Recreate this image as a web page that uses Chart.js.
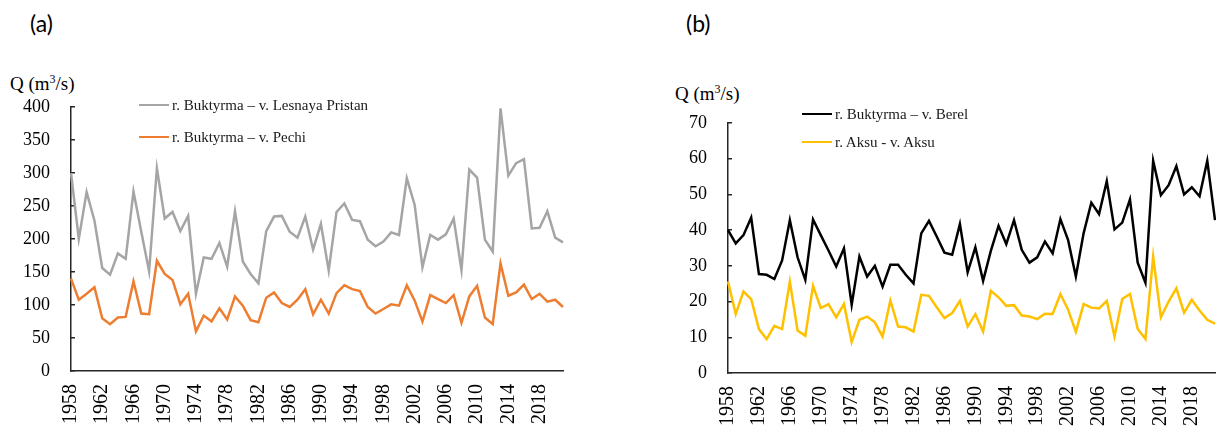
<!DOCTYPE html>
<html>
<head>
<meta charset="utf-8">
<script src="https://cdn.jsdelivr.net/npm/chart.js@4.4.1/dist/chart.umd.min.js"></script>
<style>
  html, body { margin: 0; padding: 0; width: 1216px; height: 428px; overflow: hidden; background: #fff; }
  .panel { position: absolute; top: 0; height: 428px; overflow: hidden; }
  #panelA { left: 0; width: 600px; }
  #panelB { left: 640px; width: 576px; }
  .panel canvas { position: absolute; left: 0; top: 0; }
  .tag { position: absolute; font-family: Lato, "Open Sans", sans-serif; font-size: 23px; line-height: 1; color: #000; }
  .ytitle { position: absolute; font-family: "Liberation Serif", serif; font-size: 19px; line-height: 1; color: #000; white-space: nowrap; }
  .ytitle sup { font-size: 12px; vertical-align: 7px; line-height: 0; }
  .legend { position: absolute; font-family: "Liberation Serif", serif; font-size: 15px; color: #1a1a1a; }
  .legend .item { position: absolute; left: 0; display: flex; align-items: center; white-space: nowrap; height: 18px; }
  .legend .swatch { display: inline-block; width: 30px; height: 0; border-top: 2.5px solid; margin-right: 3px; }
</style>
</head>
<body>
<div class="panel" id="panelA">
  <div class="tag" style="left:30px; top:12px;">(a)</div>
  <div class="ytitle" style="left:10px; top:74px;">Q (m<sup>3</sup>/s)</div>
  <canvas id="chartA" width="600" height="428"></canvas>
  <div class="legend" id="legendA" style="left:139px; top:96px;"></div>
</div>
<div class="panel" id="panelB">
  <div class="tag" style="left:46px; top:12px;">(b)</div>
  <div class="ytitle" style="left:35px; top:84px;">Q (m<sup>3</sup>/s)</div>
  <canvas id="chartB" width="620" height="428"></canvas>
  <div class="legend" id="legendB" style="left:162px; top:105px;"></div>
</div>

<script>
const years = [
  1958, 1959, 1960, 1961, 1962, 1963, 1964, 1965, 1966, 1967, 1968, 1969, 1970, 1971, 1972, 1973,
  1974, 1975, 1976, 1977, 1978, 1979, 1980, 1981, 1982, 1983, 1984, 1985, 1986, 1987, 1988, 1989,
  1990, 1991, 1992, 1993, 1994, 1995, 1996, 1997, 1998, 1999, 2000, 2001, 2002, 2003, 2004, 2005,
  2006, 2007, 2008, 2009, 2010, 2011, 2012, 2013, 2014, 2015, 2016, 2017, 2018, 2019, 2020, 2021
];
const labelYears = [1958, 1962, 1966, 1970, 1974, 1978, 1982, 1986, 1990, 1994, 1998, 2002, 2006, 2010, 2014, 2018];

// (a) r. Buktyrma
const lesnayaPristan = [
  300, 200, 271, 228, 156, 146, 178, 170, 272, 211, 151, 307, 231, 241, 212, 235,
  117, 172, 170, 194, 158, 242, 166, 147, 133, 212, 234, 235, 211, 202, 234, 184,
  223, 152, 241, 254, 229, 227, 199, 189, 196, 210, 206, 292, 252, 157, 206, 199,
  207, 231, 153, 305, 293, 199, 181, 398, 296, 315, 321, 216, 217, 242, 202, 195
];
const pechi = [
  140, 108, 117, 127, 80, 71, 81, 82, 136, 87, 86, 167, 147, 138, 101, 117,
  60, 84, 75, 95, 78, 113, 99, 77, 74, 111, 119, 103, 97, 108, 124, 86,
  108, 87, 118, 130, 124, 121, 97, 87, 94, 101, 99, 130, 107, 75, 115, 109,
  103, 115, 73, 113, 129, 81, 71, 163, 114, 119, 131, 109, 117, 105, 108, 97
];

// (b) r. Buktyrma - Berel, r. Aksu
const berel = [
  40.0, 36.3, 38.6, 43.5, 27.7, 27.5, 26.3, 31.5, 42.8, 32.4, 26.1, 43.0, 38.6, 34.3, 29.8, 34.9,
  19.1, 32.6, 27.0, 30.0, 24.2, 30.3, 30.3, 27.5, 25.1, 39.1, 42.6, 38.2, 33.7, 33.1, 41.7, 28.2,
  35.2, 25.8, 34.2, 41.2, 36.1, 42.8, 34.5, 30.9, 32.4, 36.8, 33.5, 43.1, 37.2, 27.0, 39.1, 47.7,
  44.5, 53.7, 40.2, 42.1, 48.6, 30.9, 25.3, 59.4, 49.8, 52.6, 57.9, 50.0, 52.0, 49.5, 59.4, 42.8
];
const aksu = [
  25.6, 16.5, 22.8, 20.7, 12.3, 9.5, 13.2, 12.3, 25.6, 11.9, 10.4, 24.4, 18.2, 19.3, 15.6, 19.3,
  8.7, 14.9, 15.8, 14.2, 10.2, 20.3, 13.0, 12.8, 11.6, 21.9, 21.6, 18.4, 15.4, 16.8, 20.2, 13.0,
  16.5, 11.6, 23.0, 21.2, 18.8, 19.0, 16.1, 15.8, 15.1, 16.6, 16.5, 22.1, 17.7, 11.5, 19.3, 18.3,
  18.1, 20.2, 10.2, 20.7, 22.1, 12.3, 9.5, 32.6, 15.6, 20.0, 23.7, 16.9, 20.5, 17.5, 14.9, 13.8
];

const AXIS = "#262626";

function buildLegend(el, chart, rowGap) {
  chart.data.datasets.forEach((ds, i) => {
    const item = document.createElement("div");
    item.className = "item";
    item.style.top = (i * rowGap) + "px";
    const sw = document.createElement("span");
    sw.className = "swatch";
    sw.style.borderTopColor = ds.borderColor;
    const tx = document.createElement("span");
    tx.textContent = ds.label;
    item.appendChild(sw);
    item.appendChild(tx);
    el.appendChild(item);
  });
}

function makeChart(id, series, yMax, yStep, pad, yWidth, xHeight) {
  return new Chart(document.getElementById(id), {
    type: "line",
    data: {
      labels: years,
      datasets: series.map(s => ({
        label: s.label,
        data: s.data,
        borderColor: s.color,
        borderWidth: 2.5,
        pointRadius: 0,
        tension: 0,
        fill: false
      }))
    },
    options: {
      responsive: false,
      animation: false,
      layout: { padding: pad },
      plugins: { legend: { display: false }, tooltip: { enabled: false } },
      scales: {
        x: {
          offset: false,
          grid: { display: false, drawTicks: false },
          border: { display: true, color: AXIS, width: 1.5 },
          ticks: {
            autoSkip: false,
            minRotation: 90,
            maxRotation: 90,
            padding: 13,
            color: "#000",
            font: { family: "Liberation Serif", size: 20 },
            callback: function (v, i) {
              const y = years[i];
              return labelYears.includes(y) ? String(y) : "";
            }
          },
          afterFit: s => { s.height = xHeight; }
        },
        y: {
          min: 0,
          max: yMax,
          grid: { drawOnChartArea: false, drawTicks: true, tickLength: -4, color: AXIS, lineWidth: 1.5 },
          border: { display: true, color: AXIS, width: 1.5 },
          ticks: {
            stepSize: yStep,
            padding: 25,
            color: "#000",
            font: { family: "Liberation Serif", size: 18 }
          },
          afterFit: s => { s.width = yWidth; }
        }
      }
    }
  });
}

const chartA = makeChart("chartA", [
  { label: "r. Buktyrma – v. Lesnaya Pristan", data: lesnayaPristan, color: "#A5A5A5" },
  { label: "r. Buktyrma – v. Pechi", data: pechi, color: "#ED7D31" }
], 400, 50, { top: 107, right: 29, bottom: 0, left: 0 }, 71, 57);

const chartB = makeChart("chartB", [
  { label: "r. Buktyrma – v. Berel", data: berel, color: "#000000" },
  { label: "r. Aksu - v. Aksu", data: aksu, color: "#FFC000" }
], 70, 10, { top: 123, right: 45, bottom: 0, left: 0 }, 88, 55);

buildLegend(document.getElementById("legendA"), chartA, 32);
buildLegend(document.getElementById("legendB"), chartB, 28);
</script>
</body>
</html>
